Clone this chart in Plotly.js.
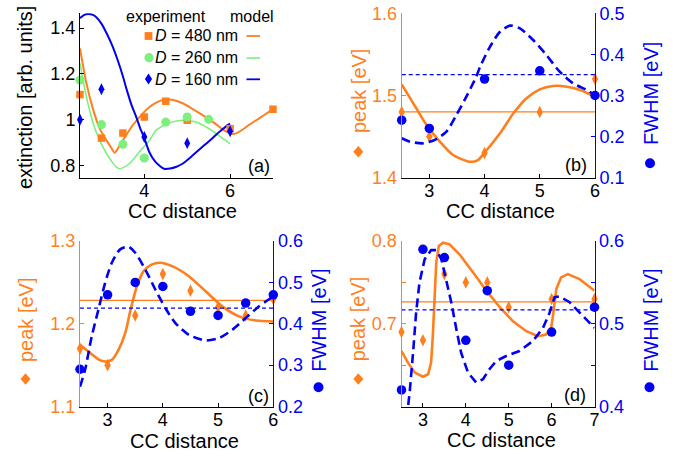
<!DOCTYPE html>
<html>
<head>
<meta charset="utf-8">
<script src="https://cdn.plot.ly/plotly-3.0.1.min.js"></script>
<style>html,body{margin:0;padding:0;background:#fff;}#chart{width:678px;height:454px;}</style>
</head>
<body>
<div id="chart"></div>
<script>
// ---------- data: panel (a) extinction ----------
const expX480 = [2.5, 3, 3.5, 4, 4.5, 5, 6, 7];
const expY480 = [1.11, 0.92, 0.942, 1.012, 1.081, 0.998, 0.961, 1.046];
const expX260 = [2.5, 3, 3.5, 4, 4.5, 5, 5.5];
const expY260 = [1.173, 0.979, 0.893, 0.833, 0.99, 1.012, 1.002];
const expX160 = [2.5, 3, 4, 5, 6];
const expY160 = [1.0, 1.133, 0.925, 0.898, 0.95];

const modX480 = [2.5, 2.65, 2.81, 2.96, 3.12, 3.22, 3.31, 3.4, 3.5, 3.73, 3.96, 4.12, 4.3, 4.46, 4.65, 4.89, 5.1, 5.35, 5.66, 5.85, 5.97, 6.09, 6.25, 6.43, 6.74, 7.0];
const modY480 = [1.312, 1.159, 1.042, 0.961, 0.91, 0.88, 0.856, 0.88, 0.91, 0.976, 1.027, 1.056, 1.077, 1.089, 1.087, 1.072, 1.05, 1.021, 0.982, 0.955, 0.943, 0.938, 0.952, 0.976, 1.014, 1.047];
const modX260 = [2.5, 2.65, 2.81, 2.96, 3.12, 3.25, 3.35, 3.42, 3.52, 3.65, 3.88, 4.12, 4.27, 4.42, 4.58, 4.75, 4.89, 5.05, 5.2, 5.35, 5.5, 5.75, 6.0];
const modY260 = [1.247, 1.10, 0.983, 0.91, 0.852, 0.815, 0.793, 0.786, 0.792, 0.808, 0.859, 0.91, 0.954, 0.972, 0.986, 0.995, 0.998, 0.996, 0.99, 0.978, 0.962, 0.93, 0.895];
const modX160 = [2.5, 2.6, 2.69, 2.8, 2.88, 3.0, 3.12, 3.25, 3.38, 3.5, 3.58, 3.7, 3.81, 3.9, 4.0, 4.12, 4.25, 4.35, 4.46, 4.6, 4.75, 4.89, 5.1, 5.35, 5.5, 5.66, 5.8, 5.97, 6.0];
const modY160 = [1.444, 1.458, 1.462, 1.458, 1.448, 1.42, 1.378, 1.325, 1.26, 1.19, 1.137, 1.065, 1.013, 0.965, 0.92, 0.857, 0.818, 0.8, 0.786, 0.787, 0.795, 0.808, 0.84, 0.881, 0.905, 0.932, 0.955, 0.98, 0.983];

// ---------- data: panel (b) ----------
const bX = [2.5, 3, 4, 5, 6];
const bPeak = [1.48, 1.45, 1.43, 1.48, 1.52];
const bFwhm = [0.24, 0.22, 0.34, 0.36, 0.30];
const bPeakMean = 1.48;
const bFwhmMean = 0.351;
const bPeakModX = [2.5, 2.71, 2.95, 3.19, 3.43, 3.73, 3.88, 3.98, 4.28, 4.52, 4.76, 5.0, 5.24, 5.49, 5.73, 6.0];
const bPeakModY = [1.5136, 1.4905, 1.464, 1.444, 1.4276, 1.4195, 1.4215, 1.4288, 1.454, 1.478, 1.4966, 1.5075, 1.5116, 1.5107, 1.5067, 1.4985];
const bFwhmModX = [2.5, 2.65, 2.89, 3.1, 3.31, 3.49, 3.67, 3.85, 3.92, 4.1, 4.28, 4.46, 4.64, 4.88, 5.12, 5.36, 5.6, 5.85, 6.0];
const bFwhmModY = [0.196, 0.1876, 0.1837, 0.192, 0.212, 0.2526, 0.297, 0.346, 0.37, 0.419, 0.455, 0.47, 0.4635, 0.435, 0.3985, 0.358, 0.33, 0.3134, 0.301];

// ---------- data: panel (c) ----------
const cX = [2.5, 3, 3.5, 4, 4.5, 5, 5.5, 6];
const cPeak = [1.17, 1.15, 1.21, 1.26, 1.24, 1.22, 1.21, 1.23];
const cFwhm = [0.29, 0.47, 0.50, 0.49, 0.43, 0.42, 0.45, 0.47];
const cPeakMean = 1.2283;
const cFwhmMean = 0.438;
const cPeakModX = [2.5, 2.652, 2.833, 2.955, 3.076, 3.197, 3.318, 3.409, 3.53, 3.652, 3.803, 3.955, 4.167, 4.47, 4.773, 5.076, 5.379, 5.682, 6.0];
const cPeakModY = [1.1745, 1.1664, 1.157, 1.1543, 1.1563, 1.1684, 1.1887, 1.215, 1.2453, 1.2636, 1.2717, 1.2737, 1.2696, 1.2575, 1.2393, 1.221, 1.2089, 1.204, 1.2028];
const cFwhmModX = [2.5, 2.591, 2.712, 2.833, 2.955, 3.076, 3.227, 3.379, 3.5, 3.682, 3.864, 4.045, 4.227, 4.47, 4.773, 5.015, 5.258, 5.5, 5.742, 6.0];
const cFwhmModY = [0.2478, 0.2883, 0.3692, 0.434, 0.4988, 0.5474, 0.5798, 0.5862, 0.5717, 0.5312, 0.4826, 0.438, 0.4016, 0.3733, 0.3595, 0.3652, 0.3854, 0.4138, 0.4421, 0.4664];

// ---------- data: panel (d) ----------
const dX = [2.5, 3, 3.5, 4, 4.5, 5, 6, 7];
const dPeak = [0.69, 0.68, 0.76, 0.75, 0.75, 0.72, 0.73, 0.73];
const dFwhm = [0.42, 0.59, 0.58, 0.48, 0.54, 0.45, 0.49, 0.52];
const dPeakMean = 0.7265;
const dFwhmMean = 0.5167;
const dPeakModX = [2.5, 2.65, 2.81, 3.0, 3.12, 3.19, 3.23, 3.27, 3.31, 3.37, 3.47, 3.62, 3.85, 4.17, 4.48, 4.79, 5.1, 5.41, 5.68, 5.87, 5.99, 6.04, 6.11, 6.22, 6.38, 6.65, 7.0];
const dPeakModY = [0.667, 0.653, 0.641, 0.636, 0.639, 0.653, 0.685, 0.726, 0.774, 0.794, 0.798, 0.796, 0.784, 0.762, 0.74, 0.72, 0.703, 0.691, 0.685, 0.687, 0.695, 0.713, 0.742, 0.756, 0.76, 0.754, 0.74];
const dFwhmModX = [2.62, 2.69, 2.77, 2.84, 2.92, 3.04, 3.19, 3.31, 3.43, 3.54, 3.66, 3.78, 3.89, 4.05, 4.24, 4.4, 4.55, 4.71, 4.94, 5.25, 5.56, 5.8, 5.95, 6.07, 6.18, 6.42, 6.73, 7.0];
const dFwhmModY = [0.385, 0.417, 0.465, 0.513, 0.55, 0.578, 0.589, 0.589, 0.578, 0.554, 0.526, 0.493, 0.465, 0.441, 0.429, 0.433, 0.445, 0.455, 0.461, 0.467, 0.479, 0.495, 0.513, 0.532, 0.533, 0.526, 0.509, 0.495];

// ---------- styling ----------
const OR = '#ff7f1e', BL = '#0000f2', GR = '#7def7d';
const FONT = 'Liberation Sans, Arial, Helvetica, sans-serif';
const W = 678, H = 454;
const px = v => v / W, py = v => 1 - v / H;

function mk(x, y, color, symbol, size, xa, ya) {
  return {x, y, xaxis: xa, yaxis: ya, type: 'scatter', mode: 'markers', cliponaxis: false,
    marker: {color, symbol, size, line: {width: 0}}, hoverinfo: 'skip'};
}
function ln(x, y, color, width, dash, xa, ya, shape) {
  return {x, y, xaxis: xa, yaxis: ya, type: 'scatter', mode: 'lines',
    line: {color, width, dash: dash || 'solid', shape: shape || 'spline', smoothing: 0.7}, hoverinfo: 'skip'};
}
function hl(xr, val, color, width, dash, xa, ya) {
  return {x: [xr[0], xr[1]], y: [val, val], xaxis: xa, yaxis: ya, type: 'scatter', mode: 'lines',
    line: {color, width, dash: dash || 'solid'}, hoverinfo: 'skip'};
}

const DASH = '9px,5px', THIN = '4px,3px';
const traces = [
  // (a)
  ln(modX480, modY480, OR, 2, null, 'x', 'y'),
  ln(modX260, modY260, GR, 1.6, null, 'x', 'y'),
  ln(modX160, modY160, BL, 2, null, 'x', 'y'),
  mk(expX480, expY480, OR, 'square', 7.5, 'x', 'y'),
  mk(expX260, expY260, GR, 'circle', 9, 'x', 'y'),
  mk(expX160, expY160, BL, 'diamond-tall', 8.5, 'x', 'y'),
  // (b)
  hl([2.5, 6], bPeakMean, OR, 1.3, null, 'x2', 'y2'),
  ln(bPeakModX, bPeakModY, OR, 2.6, null, 'x2', 'y2'),
  mk(bX, bPeak, OR, 'diamond-tall', 9, 'x2', 'y2'),
  hl([2.5, 6], bFwhmMean, BL, 1.3, THIN, 'x2', 'y3'),
  ln(bFwhmModX, bFwhmModY, BL, 2.6, DASH, 'x2', 'y3'),
  mk(bX, bFwhm, BL, 'circle', 9.5, 'x2', 'y3'),
  // (c)
  hl([2.5, 6], cPeakMean, OR, 1.3, null, 'x3', 'y4'),
  ln(cPeakModX, cPeakModY, OR, 2.6, null, 'x3', 'y4'),
  mk(cX, cPeak, OR, 'diamond-tall', 9, 'x3', 'y4'),
  hl([2.5, 6], cFwhmMean, BL, 1.3, THIN, 'x3', 'y5'),
  ln(cFwhmModX, cFwhmModY, BL, 2.6, DASH, 'x3', 'y5'),
  mk(cX, cFwhm, BL, 'circle', 9.5, 'x3', 'y5'),
  // (d)
  hl([2.5, 7], dPeakMean, OR, 1.3, null, 'x4', 'y6'),
  ln(dPeakModX, dPeakModY, OR, 2.6, null, 'x4', 'y6', 'linear'),
  mk(dX, dPeak, OR, 'diamond-tall', 9, 'x4', 'y6'),
  hl([2.5, 7], dFwhmMean, BL, 1.3, THIN, 'x4', 'y7'),
  ln(dFwhmModX, dFwhmModY, BL, 2.6, DASH, 'x4', 'y7', 'linear'),
  mk(dX, dFwhm, BL, 'circle', 9.5, 'x4', 'y7'),
];

const TF = 18;
function xax(dom, anchor, range, tickvals) {
  return {domain: dom, anchor, range, tickvals, ticktext: tickvals.map(String), showgrid: false, zeroline: false,
    showline: true, linecolor: '#000', linewidth: 1, ticks: 'inside', ticklen: 4, tickcolor: '#000',
    ticklabelstandoff: -3,
    tickfont: {family: FONT, size: TF, color: '#000'}, fixedrange: true};
}
function yax(dom, anchor, range, tickvals, ticktext, color, side, overlaying) {
  const o = {domain: dom, anchor, range, tickvals, ticktext, showgrid: false, zeroline: false,
    showline: true, linecolor: color, linewidth: 1, ticks: 'inside', ticklen: 4, tickcolor: color,
    tickfont: {family: FONT, size: TF, color}, side: side || 'left', fixedrange: true};
  if (overlaying) o.overlaying = overlaying;
  return o;
}

const xTop = [px(80), px(273)], xTopR = [px(401.7), px(595)];
const yTop = [py(177.7), py(13.3)], yBot = [py(406.5), py(241)];

const layout = {
  width: W, height: H, margin: {l: 0, r: 0, t: 0, b: 0},
  paper_bgcolor: '#fff', plot_bgcolor: 'rgba(0,0,0,0)', showlegend: false,
  font: {family: FONT, size: 16, color: '#000'},
  xaxis: xax(xTop, 'y', [2.5, 7], [4, 6]),
  yaxis: yax(yTop, 'x', [0.747, 1.465], [0.8, 1, 1.2, 1.4], ['0.8', '1', '1.2', '1.4'], '#000'),
  xaxis2: xax(xTopR, 'y2', [2.5, 6], [3, 4, 5, 6]),
  yaxis2: yax(yTop, 'x2', [1.4, 1.6], [1.4, 1.5, 1.6], ['1.4', '1.5', '1.6'], OR),
  yaxis3: yax(yTop, 'x2', [0.1, 0.5], [0.1, 0.2, 0.3, 0.4, 0.5], ['0.1', '0.2', '0.3', '0.4', '0.5'], BL, 'right', 'y2'),
  xaxis3: xax([px(80), px(273.3)], 'y4', [2.5, 6], [3, 4, 5, 6]),
  yaxis4: yax(yBot, 'x3', [1.1, 1.3], [1.1, 1.2, 1.3], ['1.1', '1.2', '1.3'], OR),
  yaxis5: yax(yBot, 'x3', [0.2, 0.6], [0.2, 0.3, 0.4, 0.5, 0.6], ['0.2', '0.3', '0.4', '0.5', '0.6'], BL, 'right', 'y4'),
  xaxis4: xax([px(401.5), px(594.5)], 'y6', [2.5, 7], [3, 4, 5, 6, 7]),
  yaxis6: yax(yBot, 'x4', [0.6, 0.8], [0.6, 0.65, 0.7, 0.75, 0.8], ['', '', '0.7', '', '0.8'], OR),
  yaxis7: yax(yBot, 'x4', [0.4, 0.6], [0.4, 0.45, 0.5, 0.55, 0.6], ['0.4', '', '0.5', '', '0.6'], BL, 'right', 'y6'),
  annotations: [],
  shapes: []
};

function note(text, x, y, opts) {
  opts = opts || {};
  layout.annotations.push({text, xref: 'paper', yref: 'paper', x: px(x), y: py(y),
    xanchor: opts.xanchor || 'center', yanchor: 'middle', showarrow: false,
    textangle: opts.angle || 0, font: {family: FONT, size: opts.size || 20, color: opts.color || '#000'}});
}
function diamond(cx, cy, hw, hh, color) {
  layout.shapes.push({type: 'path', xref: 'paper', yref: 'paper', line: {width: 0}, fillcolor: color,
    path: `M${px(cx)},${py(cy - hh)} L${px(cx + hw)},${py(cy)} L${px(cx)},${py(cy + hh)} L${px(cx - hw)},${py(cy)} Z`});
}
function dot(cx, cy, r, color) {
  layout.shapes.push({type: 'circle', xref: 'paper', yref: 'paper', line: {width: 0}, fillcolor: color,
    x0: px(cx - r), x1: px(cx + r), y0: py(cy + r), y1: py(cy - r)});
}
function square(cx, cy, h, color) {
  layout.shapes.push({type: 'rect', xref: 'paper', yref: 'paper', line: {width: 0}, fillcolor: color,
    x0: px(cx - h), x1: px(cx + h), y0: py(cy + h), y1: py(cy - h)});
}
function seg(x0, x1, y, color, w) {
  layout.shapes.push({type: 'line', xref: 'paper', yref: 'paper', line: {color, width: w},
    x0: px(x0), x1: px(x1), y0: py(y), y1: py(y)});
}

// axis titles
note('extinction [arb. units]', 25, 98, {angle: -90});
note('CC distance', 182, 211);
note('CC distance', 500.5, 211);
note('CC distance', 184, 441);
note('CC distance', 501.5, 440);
note('peak [eV]', 358.3, 90.8, {angle: -90, color: OR});
note('FWHM [eV]', 651, 94, {angle: -90, color: BL});
note('peak [eV]', 26, 320, {angle: -90, color: OR});
note('FWHM [eV]', 319, 320.8, {angle: -90, color: BL});
note('peak [eV]', 358.3, 319, {angle: -90, color: OR});
note('FWHM [eV]', 651, 320.8, {angle: -90, color: BL});
diamond(358.3, 151.7, 5, 5.8, OR); dot(650, 163.3, 5, BL);
diamond(25.5, 379, 5, 5.8, OR); dot(318.5, 387.3, 5, BL);
diamond(358.3, 379, 5, 5.8, OR); dot(649.5, 387.3, 5, BL);

// panel letters
note('(a)', 272, 166, {xanchor: 'right', size: 18});
note('(b)', 588.5, 165, {xanchor: 'right', size: 18});
note('(c)', 271, 396, {xanchor: 'right', size: 18});
note('(d)', 587.5, 394.5, {xanchor: 'right', size: 18});

// legend of (a)
note('experiment', 166, 16.5, {size: 16});
note('model', 251.7, 16.5, {size: 16});
note('<i>D</i> = 480 nm', 239.5, 36, {xanchor: 'right', size: 16});
note('<i>D</i> = 260 nm', 239.5, 57.5, {xanchor: 'right', size: 16});
note('<i>D</i> = 160 nm', 239.5, 79, {xanchor: 'right', size: 16});
square(148.5, 36, 3.9, OR); dot(149, 57.7, 4.6, GR); diamond(148.5, 79, 3.6, 5.6, BL);
seg(246.5, 260, 36, OR, 1.8); seg(246.5, 260, 58, GR, 1.6); seg(246.5, 260, 79.3, BL, 1.8);

Plotly.newPlot('chart', traces, layout, {staticPlot: true, displayModeBar: false});
</script>
</body>
</html>
